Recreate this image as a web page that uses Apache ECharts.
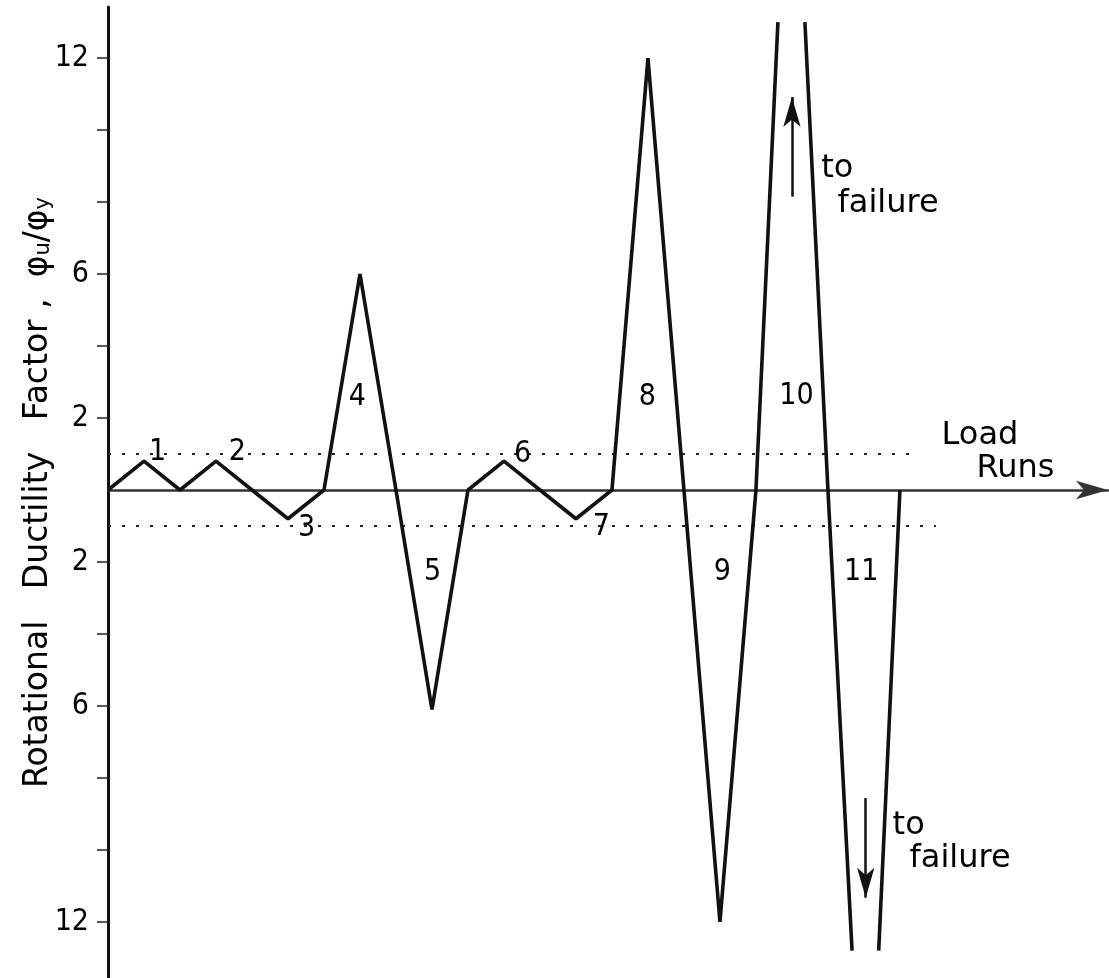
<!DOCTYPE html>
<html>
<head>
<meta charset="utf-8">
<script src="https://cdn.jsdelivr.net/npm/echarts@6/dist/echarts.min.js"></script>
<style>
html,body{margin:0;padding:0;background:#fff;}
#c{width:1109px;height:978px;}
</style>
</head>
<body>
<div id="c"></div>
<script>
// Load history: x = load step, y = rotational ductility factor (signed; negative = reversed)
const loadSteps   = [0, 1, 2, 3, 4, 5, 6, 7, 8, 9, 10, 11, 12, 13, 14, 15, 16, 17, 18, 18.61, 19, 19.36, 20, 20.67, 21, 21.41, 22];
const ductility   = [0, 0.8, 0, 0.8, 0, -0.8, 0, 6, 0, -6.1, 0, 0.8, 0, -0.8, 0, 12, 0, -12, 0, 13, null, 13, 0, -12.8, null, -12.8, 0];

// Run numbers and their label anchor points
const runNames  = ['1', '2', '3', '4', '5', '6', '7', '8', '9', '10', '11'];
const runLabelX = [1.39, 3.61, 5.53, 6.94, 9.03, 11.53, 13.72, 15.0, 17.08, 19.14, 20.94];
const runLabelY = [1.03, 1.03, -1.08, 2.56, -2.31, 0.97, -1.06, 2.56, -2.31, 2.58, -2.31];

// Notes (left-aligned)
const noteTexts = ['Load', 'Runs', 'to', 'failure', 'to', 'failure'];
const noteX     = [23.17, 24.14, 19.83, 20.28, 21.81, 22.28];
const noteY     = [1.5, 0.58, 8.92, 7.94, -9.33, -10.25];

// Yield limit lines (±1)
const limitValues = [1, -1];
const limitEndX   = [22.4, 23.0];

// "to failure" arrows: [x, yStart, yEnd]
const arrowX      = [19.0, 21.05];
const arrowStartY = [8.15, -8.56];
const arrowEndY   = [10.92, -11.33];

// Axis ticks and labels
const tickValues  = [-12, -10, -8, -6, -4, -2, 2, 4, 6, 8, 10, 12];
const labelValues = [-12, -6, -2, 2, 6, 12];

const Y_MIN = -13.56, Y_MAX = 13.42, X_MIN = 0, X_MAX = 27.78;

const narrowFont = "'Liberation Sans Narrow', 'DejaVu Sans Condensed', 'Liberation Sans', sans-serif";
const textFont = "'DejaVu Sans', 'Liberation Sans', sans-serif";

const lineData = loadSteps.map((x, i) => [x, ductility[i] === null ? '-' : ductility[i]]);
const runData = runNames.map((n, i) => ({ name: n, value: [runLabelX[i], runLabelY[i]] }));
const noteData = noteTexts.map((t, i) => ({ name: t, value: [noteX[i], noteY[i]] }));

const limitLines = limitValues.map((v, i) => [
  { coord: [X_MIN, v] },
  { coord: [limitEndX[i], v] }
]);
const arrowLines = arrowX.map((x, i) => [
  { coord: [x, arrowStartY[i]] },
  { coord: [x, arrowEndY[i]] }
]);

const chart = echarts.init(document.getElementById('c'), null, { renderer: 'canvas' });
chart.setOption({
  animation: false,
  backgroundColor: '#ffffff',
  grid: { left: 108, right: 1, top: 7, bottom: 0, containLabel: false },
  xAxis: {
    type: 'value',
    min: X_MIN,
    max: X_MAX,
    axisLine: {
      show: true,
      onZero: true,
      symbol: ['none', 'arrow'],
      symbolSize: [14, 32],
      lineStyle: { color: '#333', width: 2.5 }
    },
    axisTick: { show: false },
    axisLabel: { show: false },
    splitLine: { show: false }
  },
  yAxis: {
    type: 'value',
    min: Y_MIN,
    max: Y_MAX,
    name: 'Rotational   Ductility   Factor ,  φ{s|u}/φ{s|y}',
    nameLocation: 'middle',
    nameRotate: 90,
    nameGap: 53,
    nameMoveOverlap: false,
    nameTextStyle: {
      fontFamily: textFont,
      fontSize: 33,
      color: '#000',
      rich: {
        s: { fontFamily: textFont, fontSize: 21, color: '#000', padding: [10, 0, 0, 0] }
      }
    },
    axisLine: { show: true, onZero: false, lineStyle: { color: '#111', width: 3 } },
    axisTick: {
      show: true,
      inside: false,
      length: 11,
      customValues: tickValues,
      lineStyle: { color: '#222', width: 1.5 }
    },
    axisLabel: {
      show: true,
      margin: 19,
      customValues: labelValues,
      formatter: v => String(Math.abs(v)),
      fontFamily: narrowFont,
      fontSize: 30,
      color: '#000'
    },
    splitLine: { show: false }
  },
  series: [
    {
      type: 'line',
      data: lineData,
      connectNulls: false,
      showSymbol: false,
      symbol: 'none',
      clip: true,
      lineStyle: { color: '#111', width: 3.6 },
      z: 5
    },
    {
      type: 'line',
      data: [],
      silent: true,
      markLine: {
        silent: true,
        symbol: ['none', 'none'],
        label: { show: false },
        lineStyle: { color: '#222', width: 2, type: [3, 11] },
        data: limitLines
      }
    },
    {
      type: 'line',
      data: [],
      silent: true,
      markLine: {
        silent: true,
        symbol: ['none', 'arrow'],
        symbolSize: [13, 30],
        label: { show: false },
        lineStyle: { color: '#111', width: 2.5, type: 'solid' },
        data: arrowLines
      }
    },
    {
      type: 'scatter',
      data: runData,
      symbolSize: 1,
      itemStyle: { color: 'transparent', opacity: 1 },
      silent: true,
      label: {
        show: true,
        position: [0, 0],
        align: 'center',
        verticalAlign: 'middle',
        formatter: '{b}',
        fontFamily: narrowFont,
        fontSize: 30,
        color: '#000',
        opacity: 1
      },
      z: 6
    },
    {
      type: 'scatter',
      data: noteData,
      symbolSize: 1,
      itemStyle: { color: 'transparent', opacity: 1 },
      silent: true,
      label: {
        show: true,
        position: [0, 0],
        align: 'left',
        verticalAlign: 'middle',
        formatter: '{b}',
        fontFamily: textFont,
        fontSize: 32,
        color: '#000',
        opacity: 1
      },
      z: 6
    }
  ]
});
</script>
</body>
</html>
